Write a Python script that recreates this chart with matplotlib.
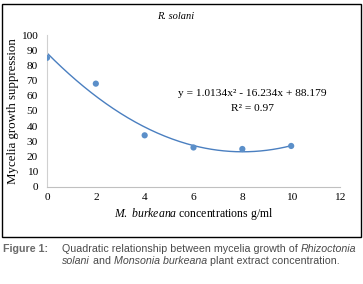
import numpy as np
import matplotlib.pyplot as plt
from matplotlib.patches import Rectangle

# data
conc = [0, 2, 4, 6, 8, 10]
suppression = [85, 68, 34, 26, 25, 27]
coef = [1.0134, -16.234, 88.179]   # trendline shown on the chart
x_ticks = [0, 2, 4, 6, 8, 10, 12]
y_ticks = [0, 10, 20, 30, 40, 50, 60, 70, 80, 90, 100]

W, H = 363, 284
plt.rcParams['font.family'] = ['Liberation Serif', 'DejaVu Serif']
plt.rcParams['mathtext.fontset'] = 'custom'
plt.rcParams['mathtext.rm'] = 'Liberation Serif'
plt.rcParams['mathtext.it'] = 'Liberation Serif:italic'
fig = plt.figure(figsize=(W / 100, H / 100), dpi=100)

# axes: x 47..340 px, y 35..187 px
ax = fig.add_axes([47 / W, 1 - 187 / H, (340 - 47) / W, (187 - 35) / H])

blue = '#5b8fc9'
line_blue = '#4a7fc0'
xs = np.linspace(0, 10, 200)
ax.plot(xs, np.polyval(coef, xs), color=line_blue, lw=1.0, zorder=2)
ax.scatter(conc, suppression, s=20, color=blue, zorder=3, edgecolors='none')

ax.set_xlim(0, 12)
ax.set_ylim(0, 100)
ax.set_xticks(x_ticks)
ax.set_yticks(y_ticks)
ax.tick_params(axis='y', length=0, labelsize=8.2, pad=6.5)
ax.tick_params(axis='x', length=0, labelsize=8.2, pad=4)
for s in ['top', 'right']:
    ax.spines[s].set_visible(False)
ax.spines['left'].set_color('#d0d0d0')
ax.spines['bottom'].set_color('#c0c0c0')
ax.spines['left'].set_linewidth(0.8)
ax.spines['bottom'].set_linewidth(0.8)

ax.set_xlabel('$\\it{M.\\ burkeana}$ concentrations g/ml', fontsize=8.5)
ax.xaxis.set_label_coords(0.5, -0.125)
ax.set_ylabel('Mycelia growth suppression', fontsize=9.3)
ax.yaxis.set_label_coords(-0.094, 0.5)
ax.text(0.44, 1.12, 'R. solani', style='italic', fontsize=7.5, ha='center', va='center',
        transform=ax.transAxes)
ax.text(8.4, 61.8, 'y = 1.0134x² - 16.234x + 88.179', fontsize=8.2, ha='center', va='center')
ax.text(8.4, 51.5, 'R² = 0.97', fontsize=8.2, ha='center', va='center')

# frame around chart
fig.patches.append(Rectangle((2 / W, 1 - 237 / H), (361 - 2) / W, (237 - 4) / H,
                             transform=fig.transFigure, fill=False, ec='black', lw=1.0))

# caption, written piece by piece so italic parts sit inline
cap = ['Liberation Sans Narrow', 'Liberation Sans', 'DejaVu Sans']
fig.text(3 / W, 1 - 249 / H, 'Figure 1:', family=cap, fontweight='bold', color='#6a6a6a',
         fontsize=7.7, va='center')
renderer = fig.canvas.get_renderer()
caption_lines = [
    [('Quadratic relationship between mycelia growth of ', 'normal'), ('Rhizoctonia', 'italic')],
    [('solani', 'italic'), (' and ', 'normal'), ('Monsonia burkeana', 'italic'),
     (' plant extract concentration.', 'normal')],
]
for row, parts in enumerate(caption_lines):
    x = 62
    for txt, st in parts:
        t = fig.text(x / W, 1 - (249 + 12 * row) / H, txt, family=cap, style=st,
                     color='#4a4a4a', fontsize=7.7, va='center')
        x = t.get_window_extent(renderer).x1

fig.savefig('out.png', dpi=100)
